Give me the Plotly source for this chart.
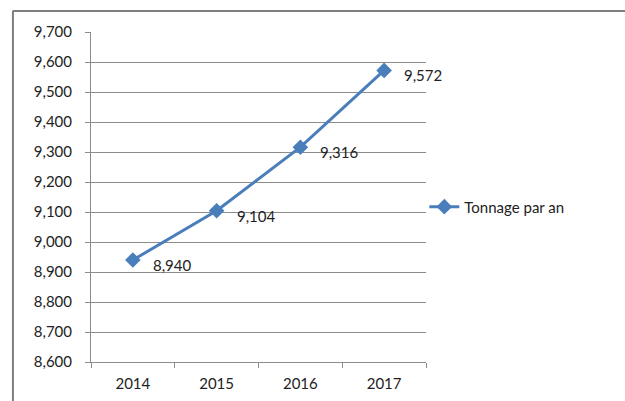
import plotly.graph_objects as go

years = ["2014", "2015", "2016", "2017"]
tonnage = [8940, 9104, 9316, 9572]
series_name = "Tonnage par an"

blue = "#4A7EBB"
grid = "#8C8C8C"
font = "Lato, sans-serif"

fig = go.Figure()
fig.add_trace(go.Scatter(
    x=years, y=tonnage, name=series_name, mode="lines+markers",
    line=dict(color=blue, width=3),
    marker=dict(symbol="diamond", size=12, color=blue),
))

# value labels next to each point
for i, v in enumerate(tonnage):
    fig.add_annotation(xref="x", yref="y", x=i, y=v, text=f"{v:,}",
                       showarrow=False, xanchor="left", yanchor="middle",
                       xshift=18, yshift=-5,
                       font=dict(size=15, color="#222222"))

# outer chart frame (top and left edges)
fig.add_shape(type="line", xref="paper", yref="paper",
              x0=-0.234, x1=1.6, y0=1.064, y1=1.064,
              line=dict(color="#7F7F7F", width=2))
fig.add_shape(type="line", xref="paper", yref="paper",
              x0=-0.233, x1=-0.233, y0=-0.2, y1=1.064,
              line=dict(color="#7F7F7F", width=2))

fig.update_layout(
    width=625, height=401,
    margin=dict(l=91, r=199, t=32, b=39),
    paper_bgcolor="white", plot_bgcolor="white",
    font=dict(family=font, size=15, color="#222222"),
    showlegend=True,
    legend=dict(x=0.995, xanchor="left", y=0.47, yanchor="middle",
                font=dict(size=15), itemwidth=30,
                bgcolor="rgba(0,0,0,0)"),
    xaxis=dict(type="category", range=[-0.5, 3.5], showgrid=False,
               showline=True, linecolor=grid, linewidth=1,
               ticks="outside", tickson="boundaries", ticklen=5, tickcolor=grid,
               ticklabelstandoff=8, automargin=False),
    yaxis=dict(range=[8600, 9700], dtick=100, tickformat=",d",
               showgrid=True, gridcolor=grid, gridwidth=1,
               showline=True, linecolor=grid, linewidth=1,
               ticks="outside", ticklen=5, tickcolor=grid,
               ticklabelstandoff=10, zeroline=False, automargin=False),
)

fig.write_html("out.html")
